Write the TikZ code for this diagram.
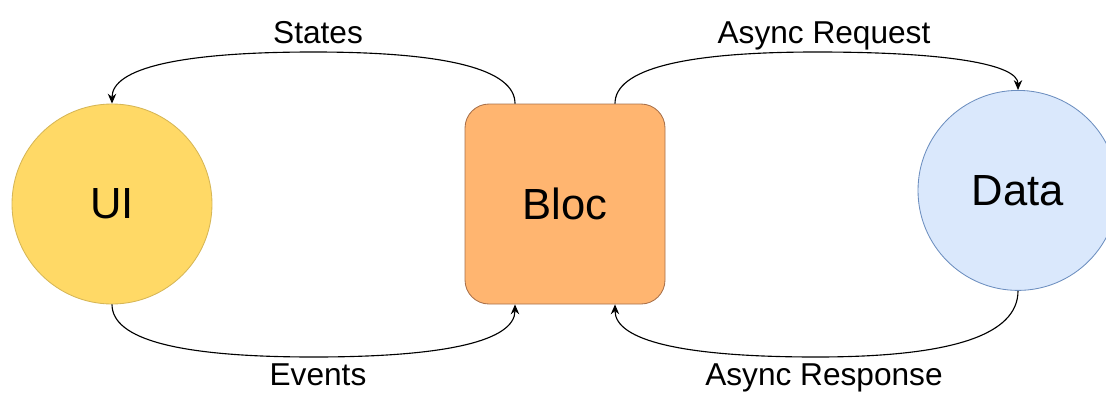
\documentclass[tikz,border=0pt]{standalone}
\usepackage{fontspec}
\setmainfont{Liberation Sans}
\usetikzlibrary{arrows.meta,calc}

\definecolor{uifill}{HTML}{FFD966}
\definecolor{uiline}{HTML}{D6B656}
\definecolor{blocfill}{HTML}{FFB570}
\definecolor{blocline}{HTML}{A8704A}
\definecolor{datafill}{HTML}{DAE8FC}
\definecolor{dataline}{HTML}{6C8EBF}

\tikzset{
    blockcircle/.style={circle, draw, line width=0.6pt, minimum size=5cm, inner sep=0pt,
        font=\fontsize{31}{36}\selectfont},
    blockbox/.style={rectangle, draw=blocline, fill=blocfill, line width=0.6pt,
        minimum width=5cm, minimum height=5cm, inner sep=0pt, rounded corners=0.6cm,
        font=\fontsize{31}{36}\selectfont},
    flow/.style={line width=0.8pt, -{Stealth[length=7pt,width=6pt]}},
    flowlabel/.style={font=\fontsize{22.5}{27}\selectfont, anchor=base}
}

\begin{document}
\begin{tikzpicture}
    \useasboundingbox (0,0) rectangle (27.65,9.8);

    % Bausteine
    \node[blockcircle, fill=uifill, draw=uiline] (ui) at (2.8,4.7) {UI};
    \node[blockbox] (bloc) at (14.125,4.7) {Bloc};
    \node[blockcircle, fill=datafill, draw=dataline] (data) at (25.45,5.04) {Data};

    % Mittelpunkte der Kurven
    \coordinate (topleft) at (7.84,8.5);
    \coordinate (topright) at (20.41,8.5);
    \coordinate (botleft) at (7.84,0.875);
    \coordinate (botright) at (20.41,0.875);

    % Pfeile oben
    \draw[flow] ([xshift=-1.25cm]bloc.north) .. controls +(0,0.85) and +(3.36,0) .. (topleft)
        .. controls +(-3.36,0) and +(0,0.88) .. (ui.north);
    \draw[flow] ([xshift=1.25cm]bloc.north) .. controls +(0,0.85) and +(-3.36,0) .. (topright)
        .. controls +(3.36,0) and +(0,0.63) .. (data.north);

    % Pfeile unten
    \draw[flow] (ui.south) .. controls +(0,-0.88) and +(-3.36,0) .. (botleft)
        .. controls +(3.36,0) and +(0,-0.9) .. ([xshift=-1.25cm]bloc.south);
    \draw[flow] (data.south) .. controls +(0,-1.11) and +(3.36,0) .. (botright)
        .. controls +(-3.36,0) and +(0,-0.9) .. ([xshift=1.25cm]bloc.south);

    % Beschriftungen
    \node[flowlabel] (stateslbl) at (7.95,8.725) {States};
    \node[flowlabel] (requestlbl) at (20.6,8.725) {Async Request};
    \node[flowlabel] (eventslbl) at (7.95,0.17) {Events};
    \node[flowlabel] (responselbl) at (20.6,0.17) {Async Response};
\end{tikzpicture}
\end{document}
